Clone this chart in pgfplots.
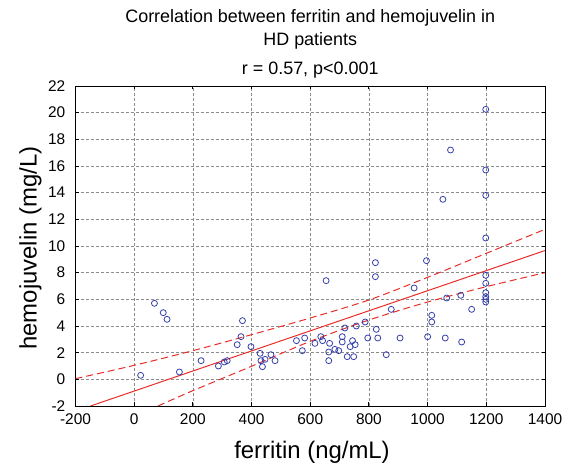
\documentclass[border=0pt]{standalone}
\usepackage{pgfplots}
\pgfplotsset{compat=1.18}
\usepackage{fontspec}
\setmainfont{Liberation Sans}
\definecolor{ptblue}{RGB}{55,65,170}
\definecolor{fitred}{RGB}{232,45,40}
\definecolor{gridgray}{RGB}{140,140,140}
\pgfplotstableread{
x y
22 0.3
69 5.7
99 5.0
112 4.5
154 0.55
228 1.4
287 1.0
307 1.3
317 1.4
351 2.6
364 3.2
369 4.4
398 2.45
429 1.95
432 1.4
446 1.5
437 0.95
466 1.85
480 1.4
553 2.9
581 3.1
573 2.15
616 2.7
636 3.2
642 2.9
654 7.4
666 2.7
663 2.05
663 1.4
684 2.25
697 2.15
709 3.2
709 2.8
718 3.85
726 1.7
736 2.45
744 2.9
753 2.6
748 1.7
757 4.0
787 4.3
796 3.1
822 8.75
822 7.7
825 3.75
830 3.1
859 1.85
876 5.25
906 3.1
954 6.85
996 8.9
1000 3.2
1014 4.8
1014 4.3
1052 13.5
1060 3.1
1065 6.1
1078 17.2
1113 6.3
1116 2.8
1150 5.25
1198 20.25
1198 15.7
1198 13.8
1198 10.6
1198 7.8
1198 7.2
1198 6.5
1198 6.2
1198 6.0
1198 5.8
}\ptsdata
\pgfplotstableread{
x y
-200 0.05
0 1.05
200 2.15
400 3.35
600 4.6
800 5.95
1000 7.65
1200 9.45
1400 11.25
}\upperband
\pgfplotstableread{
x y
81 -2
200 -0.85
400 0.98
600 2.85
800 4.45
1000 5.8
1200 6.95
1400 8.0
}\lowerband
\begin{document}
\begin{tikzpicture}[x=1bp,y=1bp]
\begin{axis}[
  at={(0,0)}, anchor=south west,
  scale only axis, width=469.5bp, height=320bp,
  xmin=-200, xmax=1400, ymin=-2, ymax=22,
  xtick={-200,0,...,1400}, ytick={-2,0,...,22},
  tick align=inside, major tick length=3.5bp,
  grid=major,
  major grid style={gridgray, dash pattern=on 3bp off 2bp, line width=0.6bp},
  axis line style={black, line width=0.9bp},
  tick style={black, line width=0.9bp},
  ticklabel style={font=\fontsize{15.5}{18}\selectfont, inner sep=1bp},
  xticklabel style={yshift=-7bp},
  yticklabel style={xshift=-9bp},
  /pgf/number format/assume math mode=true,
  /pgf/number format/1000 sep={},
  scaled x ticks=false,
  clip=true,
]
\addplot[only marks, mark=o, mark size=3bp, ptblue, mark options={line width=0.8bp}] table[x=x,y=y] {\ptsdata};
\addplot[fitred, line width=1bp] coordinates {(-148.7,-2) (1400,9.66)};
\addplot[fitred, line width=1bp, dash pattern=on 7bp off 4bp, smooth] table[x=x,y=y] {\upperband};
\addplot[fitred, line width=1bp, dash pattern=on 7bp off 4bp, smooth] table[x=x,y=y] {\lowerband};
\end{axis}
\node[font=\fontsize{18}{21}\selectfont] at (234.75,388) {Correlation between ferritin and hemojuvelin in};
\node[font=\fontsize{18}{21}\selectfont] at (234.75,365) {HD patients};
\node[font=\fontsize{18}{21}\selectfont] at (234.75,336) {r = 0.57, p<0.001};
\node[font=\fontsize{24}{28}\selectfont, inner sep=0pt] at (236.5,-46) {ferritin (ng/mL)};
\node[font=\fontsize{24}{28}\selectfont, rotate=90, inner sep=0pt] at (-45,158) {hemojuvelin (mg/L)};
\pgfresetboundingbox
\path[use as bounding box] (-75.5,-59) rectangle (491.5,406);
\end{tikzpicture}
\end{document}
